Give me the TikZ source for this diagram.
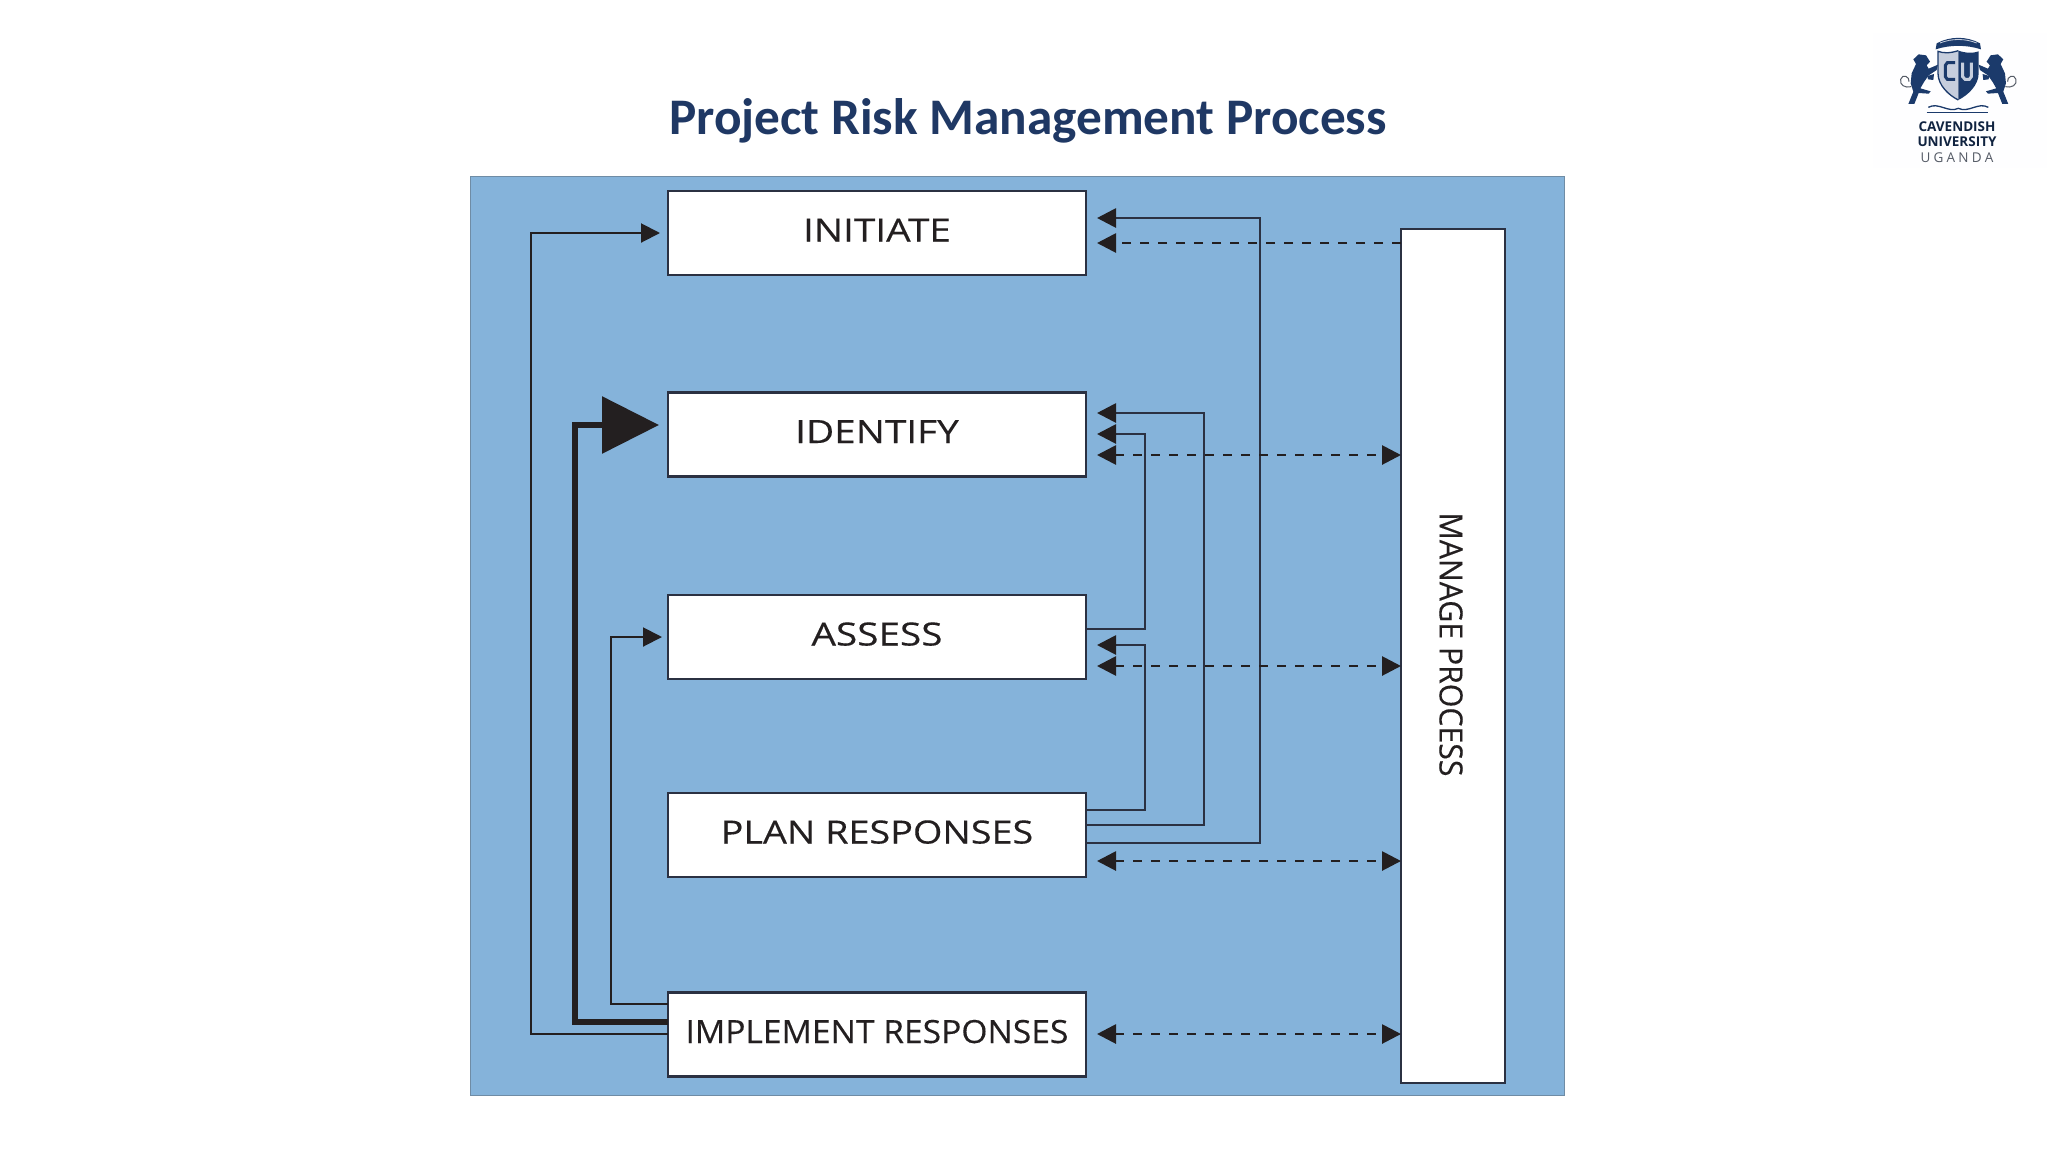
\documentclass[tikz,border=0pt]{standalone}
\usepackage{fontspec}
\usepackage{graphicx}
\setmainfont{Open Sans}
\newfontfamily\titlefont{Carlito}
\newfontfamily\boxfont[FakeBold=0.25]{Open Sans}
\usetikzlibrary{arrows.meta,calc}
\definecolor{panelblue}{HTML}{85B3DA}
\definecolor{paneledge}{HTML}{6F8CA5}
\definecolor{linedark}{HTML}{2B3142}
\definecolor{tipdark}{HTML}{231F20}
\definecolor{titleblue}{HTML}{1F3864}
\definecolor{logonavy}{HTML}{1B3A6B}
\definecolor{logolight}{HTML}{C6CEDD}
\definecolor{logogrey}{HTML}{555B66}
\tikzset{
 procbox/.style={draw=linedark,fill=white,line width=2.4pt,minimum width=418pt,minimum height=84pt,inner sep=0pt,font=\boxfont\fontsize{32}{32}\selectfont,text=tipdark,text height=24pt,text depth=7pt},
 tipS/.style={-{Triangle[length=19pt,width=19pt,fill=tipdark,color=tipdark]}},
 tipB/.style={{Triangle[length=19pt,width=19pt,fill=tipdark,color=tipdark]}-{Triangle[length=19pt,width=19pt,fill=tipdark,color=tipdark]}},
 solidline/.style={draw=linedark,line width=2.8pt,tipS},
 thinline/.style={draw=tipdark,line width=2pt,tipS},
 dashline/.style={draw=tipdark,line width=2.8pt,dash pattern=on 9pt off 9pt},
}
\begin{document}
\begin{tikzpicture}[x=1pt,y=-1pt,line join=miter]
\useasboundingbox (0,0) rectangle (2048,1152);
\fill[white] (0,0) rectangle (2048,1152);
\node[font=\titlefont\bfseries\fontsize{51.3}{51.3}\selectfont,text=titleblue,inner sep=0pt] (title) at (1028,121) {Project Risk Management Process};
\node[draw=paneledge,fill=panelblue,line width=1pt,minimum width=1094pt,minimum height=919pt,inner sep=0pt] (panel) at (1017,635.5) {};
\node[procbox] (init) at (877,233) {\scalebox{1.21}[1]{INITIATE}};
\node[procbox] (iden) at (877,434.5) {\scalebox{1.21}[1]{IDENTIFY}};
\node[procbox] (asse) at (877,637) {\scalebox{1.21}[1]{ASSESS}};
\node[procbox] (plan) at (877,835) {\scalebox{1.18}[1]{PLAN RESPONSES}};
\node[procbox] (impl) at (877,1034.5) {\scalebox{1.05}[1]{IMPLEMENT RESPONSES}};
\node[draw=linedark,fill=white,line width=2.4pt,minimum width=104pt,minimum height=854pt,inner sep=0pt] (mgmt) at (1453,656) {};
\node[rotate=-90,font=\boxfont\fontsize{32}{32}\selectfont,text=tipdark,inner sep=0pt] (mlabel) at (1451,644.5) {\scalebox{.945}[1]{MANAGE PROCESS}};
% end points
\coordinate (t1) at (1097,218); \coordinate (d1) at (1097,243);
\coordinate (t2) at (1097,413); \coordinate (t3) at (1097,434); \coordinate (d2) at (1097,455);
\coordinate (t4) at (1097,645); \coordinate (d3) at (1097,666);
\coordinate (d4) at (1097,861); \coordinate (d5) at (1097,1034);
\coordinate (s1) at (1086,843); \coordinate (c1) at (1260,843);
\coordinate (s2) at (1086,825); \coordinate (c2) at (1204,825);
\coordinate (s3) at (1086,629); \coordinate (c3) at (1145,629);
\coordinate (s4) at (1086,810); \coordinate (c4) at (1145,810);
\coordinate (m1) at (1401,243); \coordinate (m2) at (1401,455); \coordinate (m3) at (1401,666); \coordinate (m4) at (1401,861); \coordinate (m5) at (1401,1034);
\coordinate (l1s) at (668,1034); \coordinate (l1e) at (660,233);
\coordinate (l2s) at (668,1022); \coordinate (l2e) at (659,425);
\coordinate (l3s) at (668,1004); \coordinate (l3e) at (662,637);
% right feedback
\draw[solidline] (s1) -- (c1) |- (t1);
\draw[solidline] (s2) -- (c2) |- (t2);
\draw[solidline] (s3) -- (c3) |- (t3);
\draw[solidline] (s4) -- (c4) |- (t4);
% dashed
\draw[dashline,tipS] (m1) -- (d1);
\draw[dashline,tipB] (d2) -- (m2);
\draw[dashline,tipB] (d3) -- (m3);
\draw[dashline,tipB] (d4) -- (m4);
\draw[dashline,tipB] (d5) -- (m5);
% left feedback
\draw[thinline] (l1s) -| (531,233) -- (l1e);
\draw[thinline] (l3s) -| (611,637) -- (l3e);
\draw[draw=tipdark,line width=6pt,-{Triangle[length=57pt,width=56pt,fill=tipdark,color=tipdark]}] (l2s) -| (575,425) -- (l2e);
% logo
\begin{scope}[shift={(1860,20)},x=.3333pt,y=-.3333pt]
\fill[white!99.5!blue] (40,40) rectangle (560,445);
\newcommand{\logolion}{%
 \fill[logonavy] (145,252) -- (160,215) -- (152,190) -- (155,160) -- (168,132) -- (160,118) -- (176,103) -- (198,106) -- (210,125) -- (200,136) -- (206,146) -- (234,134) -- (230,150) -- (206,166) -- (192,186) -- (181,205) -- (212,214) -- (206,221) -- (176,219) -- (163,252) -- cycle;
 \fill[logonavy] (202,168) -- (222,162) -- (220,180) -- (204,178) -- cycle;
 \draw[logogrey,line width=1pt] (154,200) .. controls (135,205) and (118,195) .. (122,178) .. controls (127,160) and (150,170) .. (147,185);
}
\logolion
\begin{scope}[xshift=196.6pt,xscale=-1]\logolion\end{scope}
% crown band
\fill[logonavy] (230,70) .. controls (270,48) and (320,48) .. (360,70) -- (363,88) .. controls (320,74) and (270,74) .. (227,88) -- cycle;
\draw[logolight,line width=.8pt] (240,69) .. controls (275,55) and (315,55) .. (350,69);
% shield
\fill[logolight] (295,92) .. controls (270,100) and (250,100) .. (234,94) -- (234,160) .. controls (234,195) and (265,225) .. (295,240) -- cycle;
\fill[logonavy] (295,92) .. controls (320,100) and (340,100) .. (356,94) -- (356,160) .. controls (356,195) and (325,225) .. (295,240) -- cycle;
\draw[logonavy,line width=1.3pt] (295,92) .. controls (270,100) and (250,100) .. (234,94) -- (234,160) .. controls (234,195) and (265,225) .. (295,240);
\draw[logonavy,line width=3pt] (285,128) -- (262,128) -- (256,136) -- (256,170) -- (262,178) -- (285,178);
\draw[logolight,line width=3pt] (308,128) -- (308,170) -- (315,178) -- (328,178) -- (334,170) -- (334,128);
% book
\draw[logonavy,line width=1.3pt] (205,262) .. controls (235,245) and (265,280) .. (295,265) .. controls (325,280) and (355,245) .. (385,262);
\draw[logonavy,line width=1.3pt] (200,278) -- (385,278);
\end{scope}
\node[font=\fontsize{13.5}{13.5}\selectfont\bfseries,text=logonavy!60!black,inner sep=0pt] (lt1) at (1957,127) {CAVENDISH};
\node[font=\fontsize{13.5}{13.5}\selectfont\bfseries,text=logonavy!60!black,inner sep=0pt] (lt2) at (1957,142) {UNIVERSITY};
\node[font=\fontsize{13.5}{13.5}\selectfont,text=logogrey,inner sep=0pt] (lt3) at (1957,158) {U\hspace{3.2pt}G\hspace{3.2pt}A\hspace{3.2pt}N\hspace{3.2pt}D\hspace{3.2pt}A};
\end{tikzpicture}
\end{document}
